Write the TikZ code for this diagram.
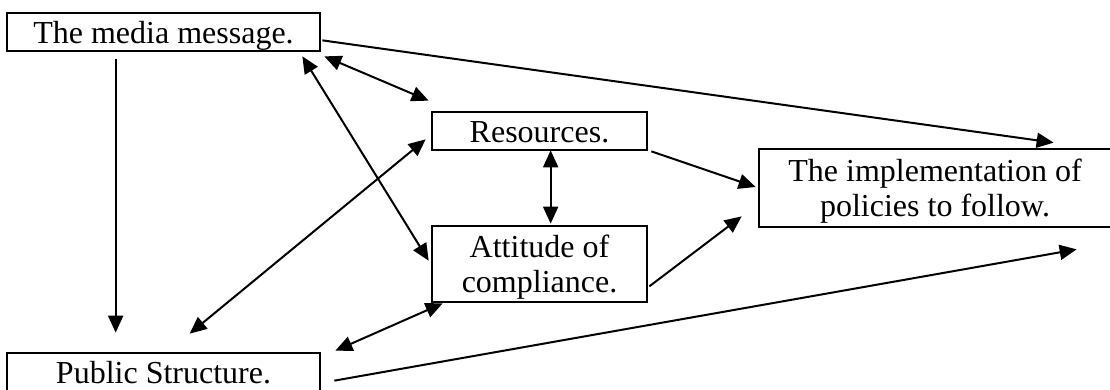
\documentclass[tikz,border=0pt]{standalone}
\usepackage{fontspec}
\setmainfont{Liberation Serif}
\usetikzlibrary{calc,arrows.meta}
% raises the first line of two-line boxes
\newcommand{\firstlinestrut}{\rule{0pt}{29pt}}
\begin{document}
\begin{tikzpicture}[x=1pt,y=-1pt,
  box/.style={draw, line width=2.7pt, rectangle, inner sep=0pt,
    font=\fontsize{32}{35.5}\selectfont, align=center},
  oneline/.style={box, text height=22pt, text depth=0pt},
  tip/.tip={Triangle[length=17pt,width=15pt]},
  arr/.style={line width=2pt, -tip},
  dbl/.style={line width=2pt, tip-tip}]
\useasboundingbox (0,0) rectangle (1110,389);
\fill[white] (0,0) rectangle (1110,389);
\clip (0,0) rectangle (1110,389);

% boxes
\node[oneline, minimum width=313pt, minimum height=38pt] (media) at (163.5,32) {The media message.};
\node[oneline, minimum width=215pt, minimum height=38pt] (res) at (539.5,131) {Resources.};
\node[box, minimum width=215pt, minimum height=76pt] (att) at (539.5,264) {\firstlinestrut Attitude of\\compliance.};
\node[box, minimum width=352pt, minimum height=78pt] (impl) at (935,188) {\firstlinestrut The implementation of\\policies to follow.};
\node[oneline, minimum width=313pt, minimum height=38pt] (pub) at (163.5,372) {Public Structure.};

% connectors
\draw[arr] ($(media.south west)+(110,7)$) -- ($(pub.north west)+(110,-19)$);
\draw[arr] ($(media.south east)+(1,-12)$) -- ($(impl.north west)+(296,-5)$);
\draw[dbl] ($(media.south east)+(3,4)$) -- ($(res.north west)+(-2,-10)$);
\draw[dbl] ($(media.south east)+(-19,4)$) -- ($(att.north west)+(-2,36)$);
\draw[dbl] ($(pub.north west)+(184,-18)$) -- ($(res.south west)+(-5,-12)$);
\draw[dbl] ($(pub.north east)+(14,-1)$) -- ($(att.south west)+(12,0)$);
\draw[dbl] ($(res.south west)+(120,-1)$) -- ($(att.north west)+(120,-1)$);
\draw[arr] ($(res.south east)+(3,0)$) -- ($(impl.west)+(-2,-1)$);
\draw[arr] ($(att.south east)+(1,-17)$) -- ($(impl.south west)+(-16,-12)$);
\draw[arr] ($(pub.north east)+(13,29)$) -- ($(impl.south west)+(319,21)$);
\end{tikzpicture}
\end{document}
